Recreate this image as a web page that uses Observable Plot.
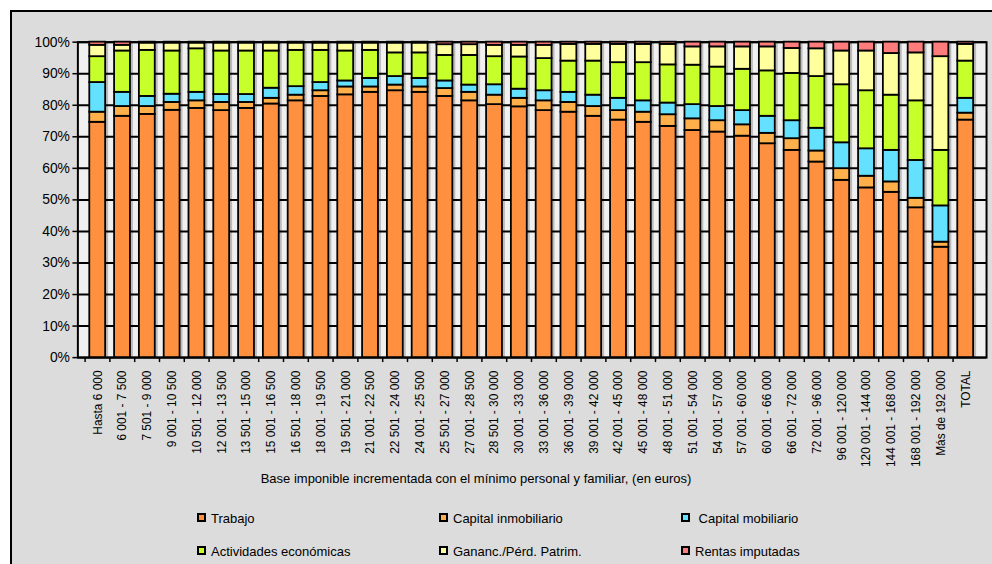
<!DOCTYPE html>
<html>
<head>
<meta charset="utf-8">
<script src="https://cdn.jsdelivr.net/npm/d3@7"></script>
<script src="https://cdn.jsdelivr.net/npm/@observablehq/plot@0.6"></script>
<style>
  html, body { margin: 0; padding: 0; background: #ffffff; }
  #chart { position: relative; width: 992px; height: 564px; overflow: hidden;
           font-family: "Liberation Sans", Arial, sans-serif; color: #000; }
  #box { position: absolute; left: 10px; top: 10px; width: 1000px; height: 600px;
         background: #dcdcdc; border-left: 2px solid #000; border-top: 2px solid #000; }
  #plot { position: absolute; left: 0; top: 0; }
  #xtitle { position: absolute; left: 0; width: 952px; top: 471px; text-align: center; font-size: 13px; }
  .item { position: absolute; font-size: 13px; line-height: 16px; white-space: nowrap; }
  .sw { display: inline-block; width: 5px; height: 5px; border: 2px solid #000; margin-right: 5px; vertical-align: 1px; }
</style>
</head>
<body>
<div id="chart">
  <div id="box"></div>
  <div id="plot"></div>
  <div id="xtitle">Base imponible incrementada con el mínimo personal y familiar, (en euros)</div>
  <div id="legend"></div>
</div>
<script>
// Tramos de base imponible
const categorias = [
  "Hasta 6 000", "6 001 - 7 500", "7 501 - 9 000", "9 001 - 10 500", "10 501 - 12 000",
  "12 001 - 13 500", "13 501 - 15 000", "15 001 - 16 500", "16 501 - 18 000", "18 001 - 19 500",
  "19 501 - 21 000", "21 001 - 22 500", "22 501 - 24 000", "24 001 - 25 500", "25 501 - 27 000",
  "27 001 - 28 500", "28 501 - 30 000", "30 001 - 33 000", "33 001 - 36 000", "36 001 - 39 000",
  "39 001 - 42 000", "42 001 - 45 000", "45 001 - 48 000", "48 001 - 51 000", "51 001 - 54 000",
  "54 001 - 57 000", "57 001 - 60 000", "60 001 - 66 000", "66 001 - 72 000", "72 001 - 96 000",
  "96 001 - 120 000", "120 001 - 144 000", "144 001 - 168 000", "168 001 - 192 000", "Más de 192 000",
  "TOTAL"
];

// Porcentaje de cada fuente de renta sobre el total del tramo
const trabajo = [74.6, 76.5, 77.1, 78.4, 79.0, 78.3, 79.0, 80.4, 81.4, 82.8, 83.3, 84.1, 84.6, 84.1, 82.8, 81.4, 80.2, 79.5, 78.3, 77.8, 76.5, 75.3, 74.6, 73.3, 72.0, 71.5, 70.2, 67.8, 65.7, 62.0, 56.2, 53.8, 52.4, 47.5, 35.0, 75.3];
const capitalInmobiliario = [3.2, 3.1, 2.5, 2.5, 2.4, 2.6, 1.9, 1.8, 1.8, 1.8, 2.5, 1.7, 1.8, 1.7, 2.5, 2.7, 3.0, 2.7, 3.1, 3.1, 3.1, 3.0, 3.2, 3.7, 3.7, 3.6, 3.6, 3.3, 3.7, 3.5, 3.7, 3.7, 3.3, 3.0, 1.6, 2.2];
const capitalMobiliario = [9.4, 4.5, 3.2, 2.6, 2.7, 2.5, 2.5, 3.2, 2.7, 2.6, 1.9, 2.7, 2.7, 2.7, 2.4, 2.3, 3.3, 2.9, 3.2, 3.2, 3.6, 3.9, 3.6, 3.7, 4.5, 4.5, 4.5, 5.4, 5.7, 7.2, 8.2, 8.7, 10.0, 12.0, 11.5, 4.7];
const actividades = [8.2, 13.1, 14.6, 13.7, 13.8, 13.8, 13.8, 11.8, 11.5, 10.2, 9.5, 8.9, 7.5, 8.1, 8.1, 9.4, 8.9, 10.2, 10.2, 9.9, 10.8, 11.3, 12.1, 12.1, 12.5, 12.5, 13.1, 14.4, 15.0, 16.4, 18.4, 18.4, 17.5, 18.9, 17.6, 11.8];
const ganancias = [3.6, 1.8, 2.3, 2.5, 1.8, 2.5, 2.5, 2.5, 2.3, 2.3, 2.5, 2.3, 3.1, 3.1, 3.4, 3.4, 3.6, 3.7, 4.2, 5.3, 5.3, 5.8, 5.8, 6.5, 5.8, 6.4, 7.1, 7.6, 7.9, 8.8, 10.7, 12.6, 13.2, 15.2, 29.7, 5.3];
const rentasImputadas = [1.0, 1.0, 0.3, 0.3, 0.3, 0.3, 0.3, 0.3, 0.3, 0.3, 0.3, 0.3, 0.3, 0.3, 0.8, 0.8, 1.0, 1.0, 1.0, 0.7, 0.7, 0.7, 0.7, 0.7, 1.5, 1.5, 1.5, 1.5, 2.0, 2.1, 2.8, 2.8, 3.6, 3.4, 4.6, 0.7];

const series = ["Trabajo", "Capital inmobiliario", "Capital mobiliario", "Actividades económicas", "Gananc./Pérd. Patrim.", "Rentas imputadas"];
const colores = ["#ff9040", "#ffb04a", "#63e1ff", "#c6ff2a", "#ffff9e", "#ff7c7c"];
const yTicks = [0, 10, 20, 30, 40, 50, 60, 70, 80, 90, 100];

const valores = [trabajo, capitalInmobiliario, capitalMobiliario, actividades, ganancias, rentasImputadas];
const filas = categorias.flatMap((c, i) => valores.map((v, k) => ({ tramo: c, fuente: series[k], pct: v[i] })));

const W = 1000, H = 470, mL = 78, mR = 6, mT = 42, mB = 110;
const paso = (W - mL - mR) / categorias.length;

const chart = Plot.plot({
  width: W, height: H,
  marginLeft: mL, marginRight: mR, marginTop: mT, marginBottom: mB,
  style: { background: "transparent", fontFamily: "'Liberation Sans', Arial, sans-serif", color: "#000", overflow: "visible" },
  x: { domain: categorias, paddingInner: 0.34, paddingOuter: 0.17, label: null },
  y: { domain: [0, 100], label: null },
  color: { domain: series, range: colores },
  marks: [
    Plot.frame({ fill: "#f0f0f0", stroke: "#000", strokeWidth: 2 }),
    Plot.ruleY(yTicks, { stroke: "#000", strokeWidth: 2 }),
    // sombra de las columnas
    Plot.barY(filas, Plot.groupX({ y: "sum" }, { x: "tramo", y: "pct", fill: "#000", fillOpacity: 0.22, dx: 3 })),
    Plot.barY(filas, { x: "tramo", y: "pct", fill: "fuente", stroke: "#000", strokeWidth: 1.8 }),
    Plot.axisY({ ticks: yTicks, tickFormat: d => d + "%", tickSize: 5, tickPadding: 3, fontSize: 14, label: null, stroke: "#000", strokeWidth: 1.5 }),
    Plot.axisX({ tickSize: 0, tickPadding: 13, tickRotate: -90, fontSize: 12, label: null }),
    Plot.axisX({ tickSize: 5, tickFormat: () => "", dx: -paso / 2, label: null, stroke: "#000", strokeWidth: 1.5 })
  ]
});
document.getElementById("plot").appendChild(chart);

// Leyenda en dos filas y tres columnas
const legendPos = [[197, 511], [439, 511], [681, 511], [197, 544], [439, 544], [681, 544]];
const legend = document.getElementById("legend");
series.forEach((s, k) => {
  const d = document.createElement("div");
  d.className = "item";
  d.style.left = legendPos[k][0] + "px";
  d.style.top = legendPos[k][1] + "px";
  d.innerHTML = `<span class="sw" style="background:${colores[k]}"></span>${k === 2 ? "&nbsp;" : ""}${s}`;
  legend.appendChild(d);
});
</script>
</body>
</html>
